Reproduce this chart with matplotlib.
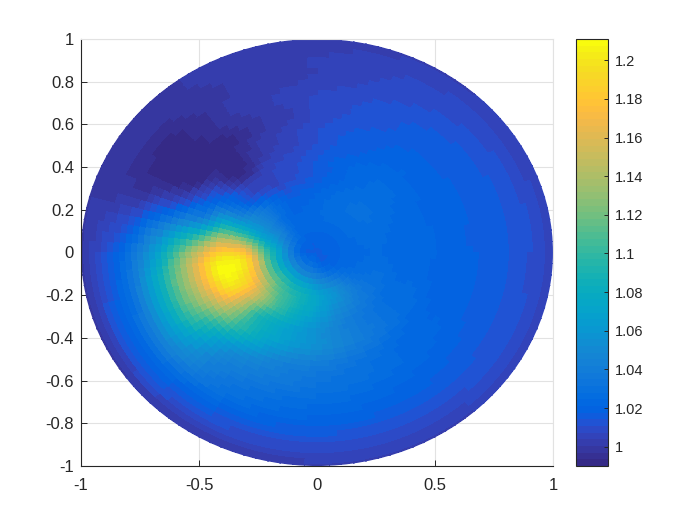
import numpy as np
import matplotlib
matplotlib.use('Agg')
import matplotlib.pyplot as plt
import matplotlib.tri as mtri
from matplotlib.colors import ListedColormap

plt.rcParams['font.family'] = ['Liberation Sans', 'DejaVu Sans']

PARULA = [
(0.2081,0.1663,0.5292),(0.2116,0.1898,0.5777),(0.2123,0.2138,0.6270),(0.2081,0.2386,0.6771),
(0.1959,0.2645,0.7279),(0.1707,0.2919,0.7792),(0.1253,0.3242,0.8303),(0.0591,0.3598,0.8683),
(0.0117,0.3875,0.8820),(0.0060,0.4086,0.8828),(0.0165,0.4266,0.8786),(0.0329,0.4430,0.8720),
(0.0498,0.4586,0.8641),(0.0629,0.4737,0.8554),(0.0723,0.4887,0.8467),(0.0779,0.5040,0.8384),
(0.0793,0.5200,0.8312),(0.0749,0.5375,0.8263),(0.0641,0.5570,0.8240),(0.0488,0.5772,0.8228),
(0.0343,0.5966,0.8199),(0.0265,0.6137,0.8135),(0.0239,0.6287,0.8038),(0.0231,0.6418,0.7913),
(0.0228,0.6535,0.7768),(0.0267,0.6642,0.7607),(0.0384,0.6743,0.7436),(0.0590,0.6838,0.7254),
(0.0843,0.6928,0.7062),(0.1133,0.7015,0.6859),(0.1453,0.7098,0.6646),(0.1801,0.7177,0.6424),
(0.2178,0.7250,0.6193),(0.2586,0.7317,0.5954),(0.3022,0.7376,0.5712),(0.3482,0.7424,0.5473),
(0.3953,0.7459,0.5244),(0.4420,0.7481,0.5033),(0.4871,0.7491,0.4840),(0.5300,0.7491,0.4661),
(0.5709,0.7485,0.4494),(0.6099,0.7473,0.4337),(0.6473,0.7456,0.4188),(0.6834,0.7435,0.4044),
(0.7184,0.7411,0.3905),(0.7525,0.7384,0.3768),(0.7858,0.7356,0.3633),(0.8185,0.7327,0.3498),
(0.8507,0.7299,0.3360),(0.8824,0.7274,0.3217),(0.9139,0.7258,0.3063),(0.9450,0.7261,0.2886),
(0.9739,0.7314,0.2666),(0.9938,0.7455,0.2403),(0.9990,0.7653,0.2164),(0.9955,0.7861,0.1967),
(0.9880,0.8066,0.1794),(0.9789,0.8271,0.1633),(0.9697,0.8481,0.1475),(0.9626,0.8705,0.1309),
(0.9589,0.8949,0.1132),(0.9598,0.9218,0.0948),(0.9661,0.9514,0.0755),(0.9763,0.9831,0.0538)]

center_value = 1.017
angles_deg = list(range(0, 360, 15))
radii = [0.1, 0.2, 0.3, 0.4, 0.5, 0.6, 0.7, 0.8, 0.9, 1.0]
ring_01 = [1.021,1.021,1.021,1.021,1.021,1.021,1.021,1.021,1.021,1.023,1.026,1.029,1.032,1.036,1.040,1.041,1.041,1.040,1.036,1.031,1.026,1.023,1.021,1.021]
ring_02 = [1.024,1.025,1.026,1.027,1.027,1.026,1.024,1.022,1.022,1.028,1.045,1.065,1.090,1.100,1.102,1.100,1.090,1.082,1.070,1.060,1.050,1.037,1.028,1.025]
ring_03 = [1.024,1.025,1.027,1.028,1.027,1.024,1.020,1.017,1.018,1.030,1.050,1.090,1.168,1.188,1.168,1.130,1.100,1.080,1.065,1.052,1.042,1.035,1.030,1.027]
ring_04 = [1.022,1.022,1.024,1.025,1.024,1.020,1.015,1.010,1.006,1.008,1.032,1.100,1.185,1.210,1.178,1.112,1.080,1.065,1.055,1.045,1.037,1.030,1.026,1.024]
ring_05 = [1.021,1.021,1.021,1.022,1.020,1.016,1.012,1.006,1.000,0.993,1.018,1.060,1.150,1.172,1.142,1.098,1.068,1.052,1.045,1.038,1.032,1.026,1.023,1.021]
ring_06 = [1.019,1.019,1.019,1.019,1.017,1.014,1.010,1.004,0.997,0.991,0.998,1.040,1.105,1.122,1.105,1.065,1.045,1.038,1.033,1.030,1.026,1.023,1.021,1.020]
ring_07 = [1.017,1.017,1.017,1.016,1.014,1.011,1.008,1.003,0.998,0.991,0.991,1.020,1.060,1.075,1.070,1.048,1.034,1.029,1.026,1.024,1.022,1.020,1.018,1.017]
ring_08 = [1.015,1.015,1.014,1.013,1.011,1.008,1.005,1.003,1.000,0.993,0.992,1.005,1.028,1.035,1.038,1.032,1.025,1.021,1.019,1.018,1.017,1.016,1.015,1.015]
ring_09 = [1.011,1.011,1.010,1.009,1.008,1.006,1.004,1.003,1.000,0.998,0.997,1.001,1.011,1.015,1.016,1.015,1.012,1.011,1.011,1.011,1.011,1.011,1.011,1.011]
ring_10 = [1.004,1.004,1.004,1.004,1.003,1.003,1.002,1.002,1.001,1.000,1.000,1.000,1.000,1.000,1.000,1.001,1.001,1.002,1.002,1.003,1.003,1.004,1.004,1.004]
rings = [ring_01, ring_02, ring_03, ring_04, ring_05, ring_06, ring_07, ring_08, ring_09, ring_10]

xticks = [-1, -0.5, 0, 0.5, 1]
xlabels = ['-1', '-0.5', '0', '0.5', '1']
yticks = [-1, -0.8, -0.6, -0.4, -0.2, 0, 0.2, 0.4, 0.6, 0.8, 1]
ylabels = ['-1', '-0.8', '-0.6', '-0.4', '-0.2', '0', '0.2', '0.4', '0.6', '0.8', '1']
cticks = [1, 1.02, 1.04, 1.06, 1.08, 1.1, 1.12, 1.14, 1.16, 1.18, 1.2]
clabels = ['1', '1.02', '1.04', '1.06', '1.08', '1.1', '1.12', '1.14', '1.16', '1.18', '1.2']
vmin, vmax = 0.990, 1.211

W, H = 700, 525
fig = plt.figure(figsize=(W/100, H/100), dpi=100)
ax = fig.add_axes([81/W, 1-466/H, 472/W, 427/H])
cax = fig.add_axes([576/W, 1-466/H, 32/W, 427/H])

# Read values sit on a polar lattice; the library triangulates them in (angle, radius)
# space, wrapped round the circle, and evaluates them on a finer polar mesh.
ang = np.array(angles_deg, float)
wrap = 4
ang_w = np.concatenate([ang[-wrap:] - 360, ang, ang[:wrap] + 360])
T, R, Z = [], [], []
for a in ang_w:
    T.append(a); R.append(0.0); Z.append(center_value)
for r, ring in zip(radii, rings):
    ring_w = ring[-wrap:] + ring + ring[:wrap]
    T += list(ang_w); R += [r]*len(ang_w); Z += ring_w
tri = mtri.Triangulation(np.array(T)/60.0, np.array(R))
interp = mtri.CubicTriInterpolator(tri, np.array(Z), kind='min_E')

n_r, n_t = 40, 120
r_e = np.linspace(0, 1.02, n_r + 1)
t_e = np.linspace(0, 360, n_t + 1)
r_c = np.minimum(0.5*(r_e[:-1] + r_e[1:]), 1.0)
t_c = 0.5*(t_e[:-1] + t_e[1:])
TC, RC = np.meshgrid(t_c, r_c)
C = np.ma.filled(interp(TC/60.0, RC), 1.0)
TE, RE = np.meshgrid(np.deg2rad(t_e), r_e)
cmap = ListedColormap(PARULA)
m = ax.pcolormesh(RE*np.cos(TE), RE*np.sin(TE), C, cmap=cmap, vmin=vmin, vmax=vmax,
                  shading='flat', edgecolors='face', linewidth=0.4, antialiased=False, zorder=2)
m.set_snap(False)
m.set_clip_path(plt.Circle((0, 0), 1.0, transform=ax.transData))

ax.set_xlim(-1, 1); ax.set_ylim(-1, 1)
ax.set_xticks(xticks, xlabels); ax.set_yticks(yticks, ylabels)
ax.grid(True, color='#e2e2e2', lw=0.8, zorder=0)
ax.set_axisbelow(True)
for s in ['top', 'right']:
    ax.spines[s].set_color('#e2e2e2'); ax.spines[s].set_linewidth(0.8)
for s in ['left', 'bottom']:
    ax.spines[s].set_color('#262626'); ax.spines[s].set_linewidth(0.8)
ax.tick_params(direction='in', length=4, width=0.7, color='#262626', labelcolor='#262626', labelsize=12)
ax.tick_params(axis='x', pad=9)
ax.tick_params(axis='y', pad=5)

cb = fig.colorbar(m, cax=cax)
cb.set_ticks(cticks, labels=clabels)
cb.ax.tick_params(direction='in', length=3, width=0.7, color='#262626', labelcolor='#262626', labelsize=10.5, pad=5)
cb.outline.set_edgecolor('#262626'); cb.outline.set_linewidth(0.8)

fig.savefig('out.png', dpi=100)
